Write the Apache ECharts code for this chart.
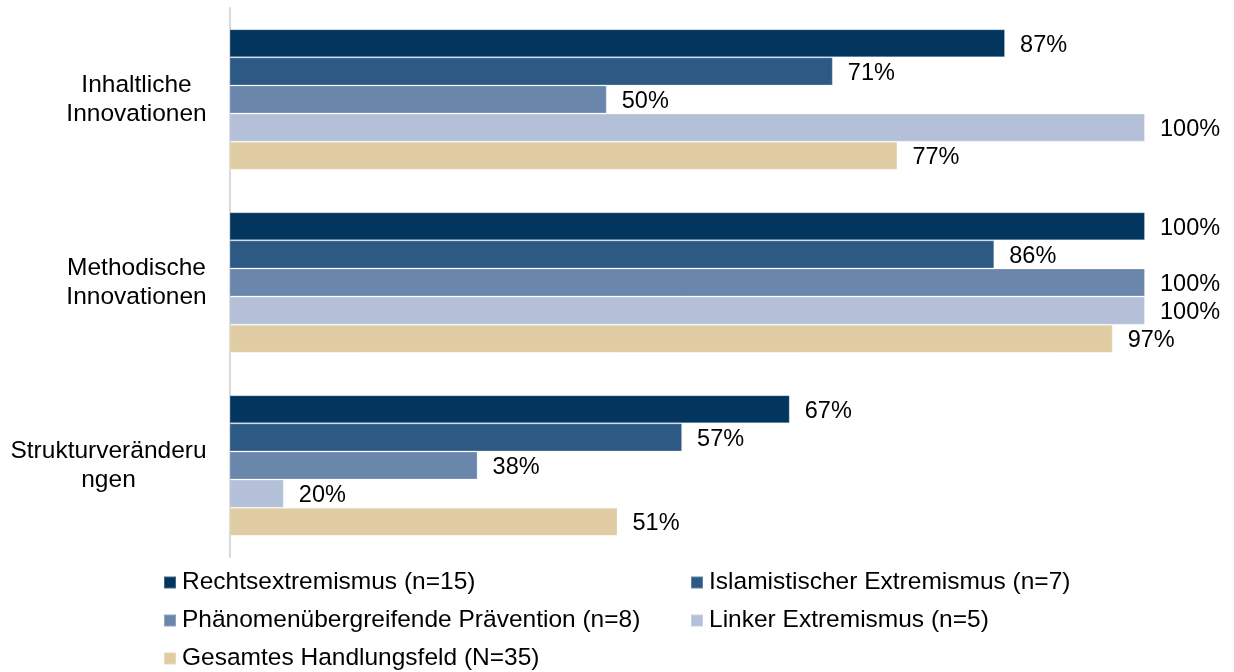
<!DOCTYPE html>
<html>
<head>
<meta charset="utf-8">
<script src="https://cdn.jsdelivr.net/npm/echarts@6/dist/echarts.min.js"></script>
<style>
  html, body { margin: 0; padding: 0; background: #fff; }
  #chart { width: 1234px; height: 672px; }
</style>
</head>
<body>
<div id="chart"></div>
<script>
// Anteil der Projekte je Innovationsart (in %)
const categories = ['Inhaltliche\nInnovationen', 'Methodische\nInnovationen', 'Strukturveränderu\nngen'];
const seriesNames = [
  'Rechtsextremismus (n=15)',
  'Islamistischer Extremismus (n=7)',
  'Phänomenübergreifende Prävention (n=8)',
  'Linker Extremismus (n=5)',
  'Gesamtes Handlungsfeld (N=35)'
];
const rechtsextremismus = [87, 100, 67];
const islamismus = [71, 86, 57];
const phaenomenuebergreifend = [50, 100, 38];
const linkerExtremismus = [100, 100, 20];
const gesamt = [77, 97, 51];

const seriesValues = [rechtsextremismus, islamismus, phaenomenuebergreifend, linkerExtremismus, gesamt];
const colors = ['#03365e', '#2c5a85', '#6a86aa', '#b3c0d7', '#e0cca2'];

const FONT = "'Liberation Sans', Arial, sans-serif";
const FS = 24.5;       // axis and legend text
const FS_LABEL = 23.5; // value labels

// Category labels: block right-aligned at the axis, each line centred inside the block
const ctx = document.createElement('canvas').getContext('2d');
ctx.font = FS + 'px ' + FONT;
const rich = {};
categories.forEach((c, i) => {
  const w = Math.max(...c.split('\n').map(l => ctx.measureText(l).width));
  rich['c' + i] = { width: Math.ceil(w), align: 'center', fontSize: FS, fontFamily: FONT, color: '#000', lineHeight: 29 };
});

const chart = echarts.init(document.getElementById('chart'));

const legendSlots = [
  { left: 163, top: 570 },
  { left: 690, top: 570 },
  { left: 163, top: 608 },
  { left: 690, top: 608 },
  { left: 163, top: 646 }
];

chart.setOption({
  animation: false,
  backgroundColor: '#fff',
  grid: { left: 230, right: 89, top: 8, bottom: 115, containLabel: false },
  xAxis: {
    type: 'value',
    min: 15,
    max: 100,
    show: false
  },
  yAxis: {
    type: 'category',
    data: categories,
    inverse: true,
    axisLine: { show: true, lineStyle: { color: '#d9d9d9', width: 2 } },
    axisTick: { show: false },
    splitLine: { show: false },
    axisLabel: {
      margin: 23,
      align: 'right',
      rich: rich,
      formatter: (val, idx) => val.split('\n').map(l => '{c' + idx + '|' + l + '}').join('\n')
    }
  },
  legend: legendSlots.map((p, i) => ({
    data: [seriesNames[i]],
    left: p.left,
    top: p.top,
    icon: 'rect',
    itemWidth: 12,
    itemHeight: 12,
    itemGap: 0,
    padding: 0,
    selectedMode: false,
    textStyle: { fontSize: FS, fontFamily: FONT, color: '#000', padding: [0, 0, 0, 1] }
  })),
  series: seriesNames.map((name, i) => ({
    name: name,
    type: 'bar',
    data: seriesValues[i],
    barGap: '0%',
    barCategoryGap: '23.2%',
    itemStyle: { color: colors[i], borderColor: 'rgba(255,255,255,0.25)', borderWidth: 1 },
    label: {
      show: true,
      position: 'right',
      distance: 15,
      offset: [0, 2],
      formatter: '{c}%',
      fontSize: FS_LABEL,
      fontFamily: FONT,
      color: '#000'
    }
  }))
});
</script>
</body>
</html>
